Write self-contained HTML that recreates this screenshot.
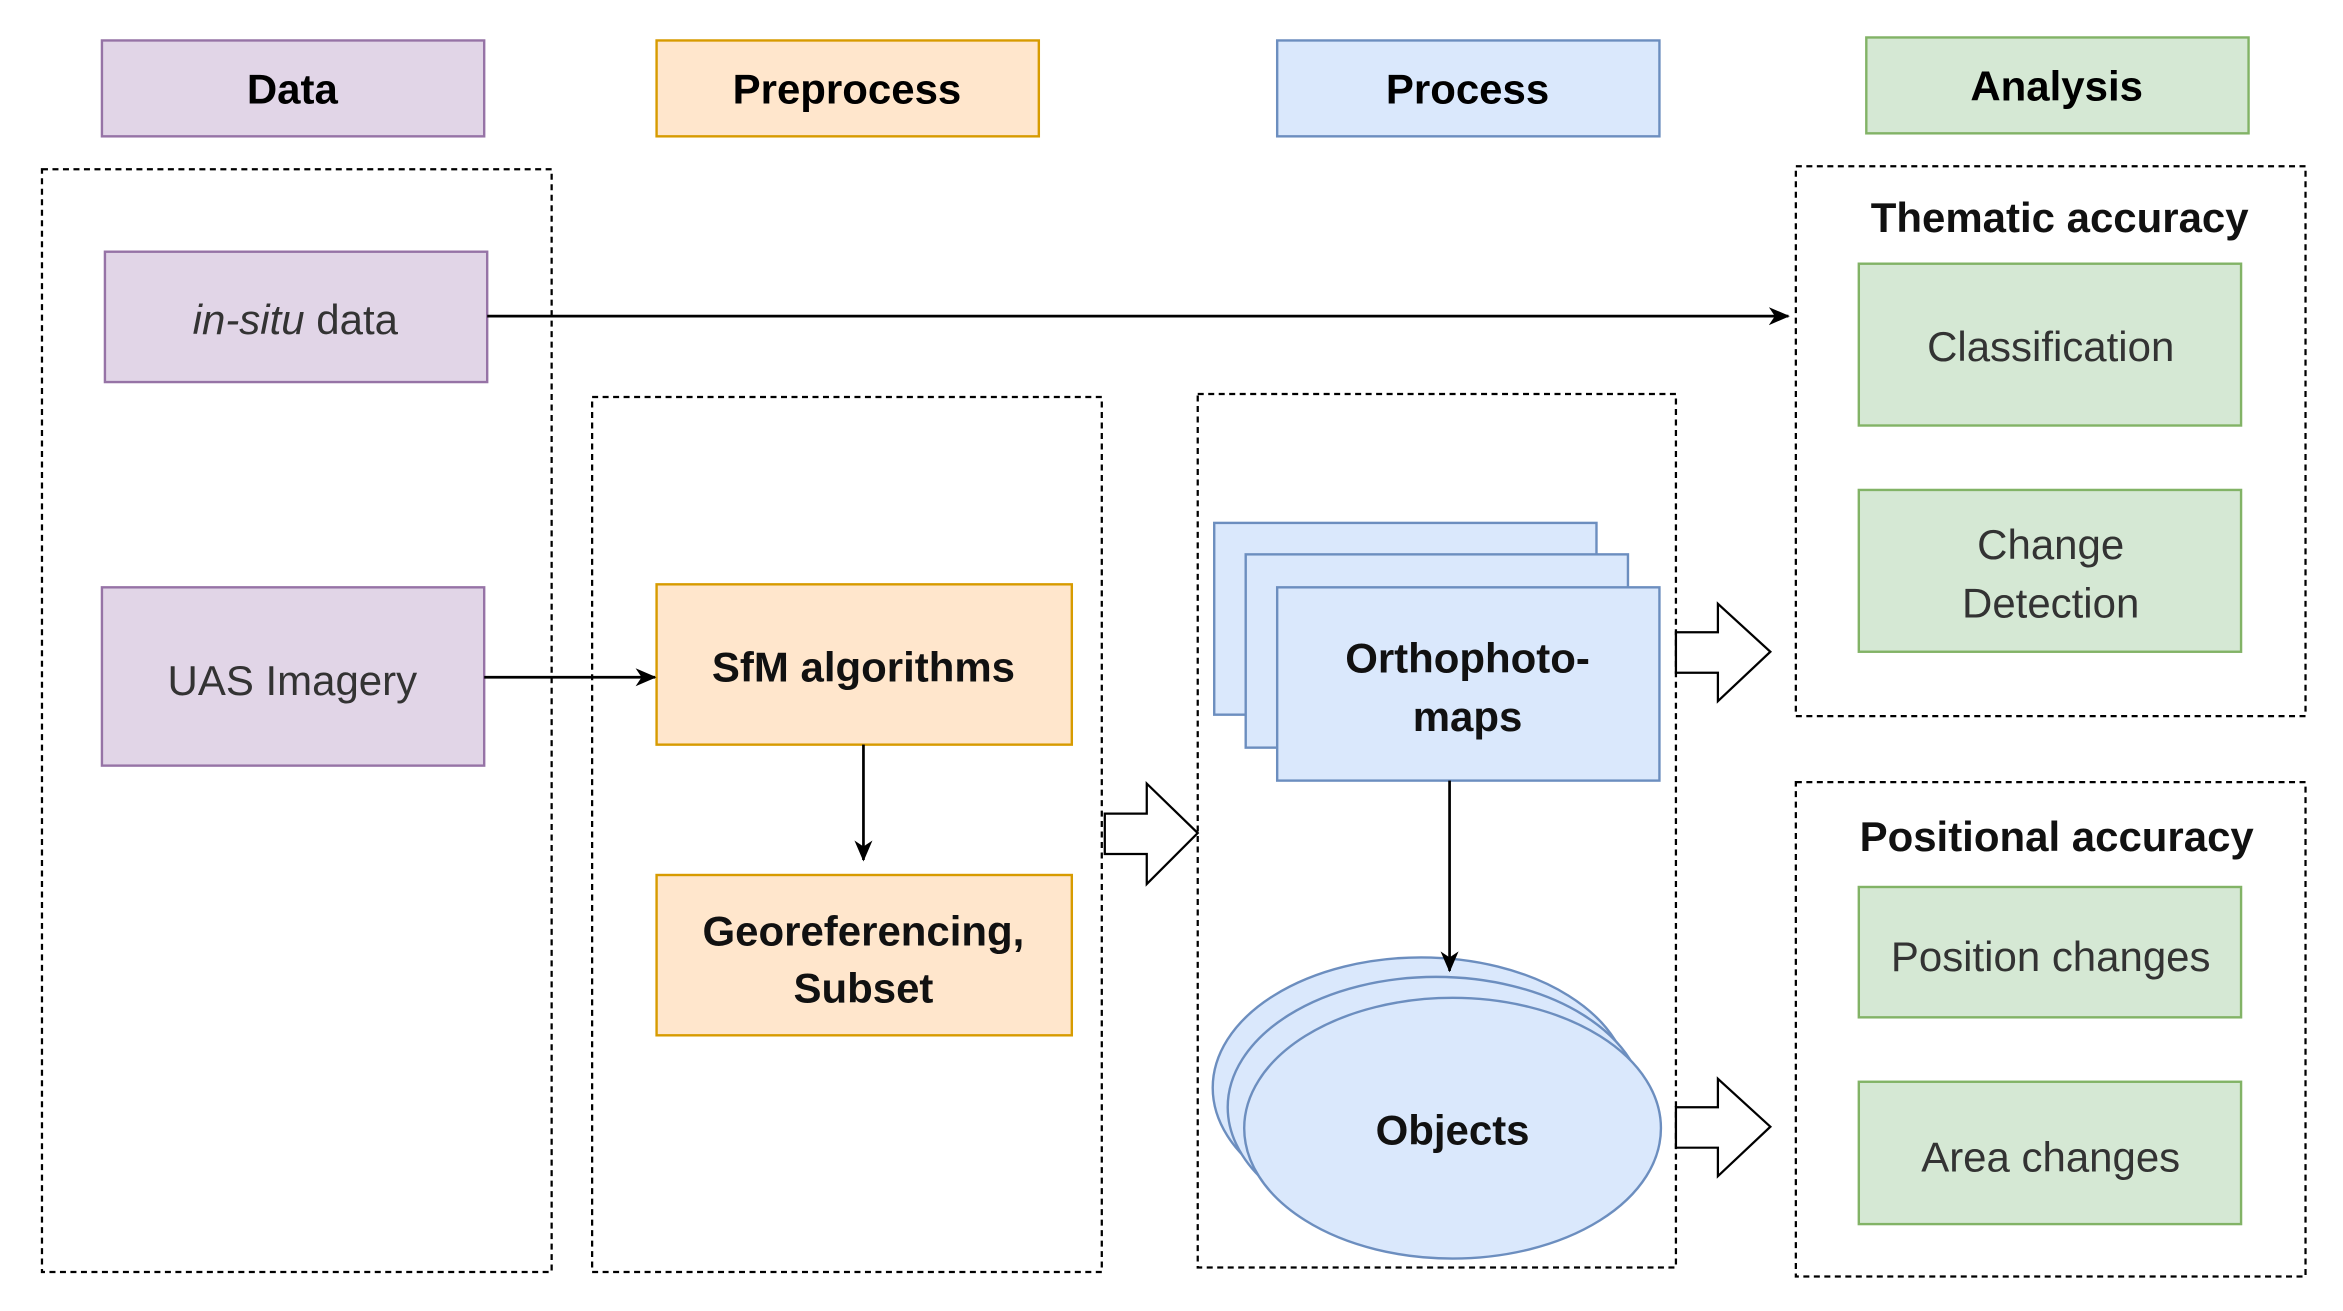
<!DOCTYPE html>
<html><head><style>html,body{margin:0;padding:0;background:#fff}svg{display:block}</style></head>
<body>
<svg width="2343" height="1311" viewBox="0 0 1563 875" preserveAspectRatio="none" xmlns="http://www.w3.org/2000/svg" font-family="Liberation Sans, sans-serif">
<defs><marker id="a" markerWidth="10" markerHeight="10" refX="9" refY="5" orient="auto" markerUnits="userSpaceOnUse" viewBox="0 0 10 10"><path d="M0,0 L10,5 L0,10 L3,5 z" fill="#000"/></marker>
<marker id="b" markerWidth="14" markerHeight="14" refX="13" refY="7" orient="auto" markerUnits="userSpaceOnUse" viewBox="0 0 14 14"><path d="M0,1 L14,7 L0,13 L4,7 z" fill="#000"/></marker></defs>
<g stroke-width="1.6">
<rect x="68" y="27" width="255" height="64" fill="#e1d5e7" stroke="#9673a6"/>
<rect x="438" y="27" width="255" height="64" fill="#ffe6cc" stroke="#d79b00"/>
<rect x="852" y="27" width="255" height="64" fill="#dae8fc" stroke="#6c8ebf"/>
<rect x="1245" y="25" width="255" height="64" fill="#d5e8d4" stroke="#82b366"/>
</g>
<g font-weight="bold" font-size="28" text-anchor="middle">
<text x="195" y="69">Data</text><text x="565" y="69">Preprocess</text><text x="979" y="69">Process</text><text x="1372" y="67">Analysis</text>
</g>
<g fill="none" stroke="#000" stroke-width="1.5" stroke-dasharray="4,3">
<rect x="28" y="113" width="340" height="736"/><rect x="395" y="265" width="340" height="584"/>
<rect x="799" y="263" width="319" height="583"/><rect x="1198" y="111" width="340" height="367"/>
<rect x="1198" y="522" width="340" height="330"/>
</g>
<g stroke-width="1.6">
<rect x="70" y="168" width="255" height="87" fill="#e1d5e7" stroke="#9673a6"/>
<rect x="68" y="392" width="255" height="119" fill="#e1d5e7" stroke="#9673a6"/>
<rect x="438" y="390" width="277" height="107" fill="#ffe6cc" stroke="#d79b00"/>
<rect x="438" y="584" width="277" height="107" fill="#ffe6cc" stroke="#d79b00"/>
<rect x="810" y="349" width="255" height="128" fill="#dae8fc" stroke="#6c8ebf"/>
<rect x="831" y="370" width="255" height="129" fill="#dae8fc" stroke="#6c8ebf"/>
<rect x="852" y="392" width="255" height="129" fill="#dae8fc" stroke="#6c8ebf"/>
<ellipse cx="948" cy="726" rx="139" ry="87" fill="#dae8fc" stroke="#6c8ebf"/>
<ellipse cx="958" cy="739" rx="139" ry="87" fill="#dae8fc" stroke="#6c8ebf"/>
<ellipse cx="969" cy="753" rx="139" ry="87" fill="#dae8fc" stroke="#6c8ebf"/>
<rect x="1240" y="176" width="255" height="108" fill="#d5e8d4" stroke="#82b366"/>
<rect x="1240" y="327" width="255" height="108" fill="#d5e8d4" stroke="#82b366"/>
<rect x="1240" y="592" width="255" height="87" fill="#d5e8d4" stroke="#82b366"/>
<rect x="1240" y="722" width="255" height="95" fill="#d5e8d4" stroke="#82b366"/>
</g>
<g stroke="#000" stroke-width="1.8" fill="none">
<line x1="325" y1="211" x2="1193" y2="211" marker-end="url(#b)"/>
<line x1="323" y1="452" x2="437" y2="452" marker-end="url(#b)"/>
<line x1="576" y1="497" x2="576" y2="574" marker-end="url(#b)"/>
<line x1="967" y1="521" x2="967" y2="648" marker-end="url(#b)"/>
</g>
<g fill="#fff" stroke="#000" stroke-width="1.5">
<path d="M737,543 L765,543 L765,523 L799,556 L765,590 L765,570 L737,570 Z"/>
<path d="M1118,422 L1146,422 L1146,403 L1181,435 L1146,468 L1146,449 L1118,449 Z"/>
<path d="M1118,739 L1146,739 L1146,720 L1181,752 L1146,785 L1146,766 L1118,766 Z"/>
</g>
<g font-size="28" text-anchor="middle" fill="#333">
<text x="197" y="223"><tspan font-style="italic">in-situ</tspan> data</text>
<text x="195" y="464">UAS Imagery</text>
<text x="1368" y="241">Classification</text>
<text x="1368" y="373">Change</text><text x="1368" y="412">Detection</text>
<text x="1368" y="648">Position changes</text>
<text x="1368" y="782">Area changes</text>
</g>
<g font-size="28" text-anchor="middle" font-weight="bold" fill="#111">
<text x="576" y="455">SfM algorithms</text>
<text x="576" y="631">Georeferencing,</text><text x="576" y="669">Subset</text>
<text x="979" y="449">Orthophoto-</text><text x="979" y="488">maps</text>
<text x="969" y="764">Objects</text>
<text x="1374" y="155">Thematic accuracy</text>
<text x="1372" y="568">Positional accuracy</text>
</g>
</svg>
</body></html>
